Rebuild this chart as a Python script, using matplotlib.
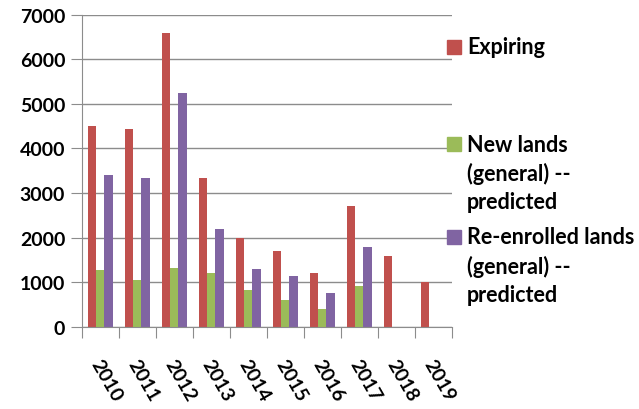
import numpy as np
import matplotlib.pyplot as plt
from matplotlib.patches import Rectangle

years = ["2010", "2011", "2012", "2013", "2014", "2015", "2016", "2017", "2018", "2019"]
expiring = [4500, 4430, 6580, 3340, 2000, 1700, 1220, 2710, 1600, 1000]
new_lands = [1280, 1060, 1320, 1210, 820, 600, 410, 910, np.nan, np.nan]
reenrolled = [3400, 3340, 5240, 2200, 1300, 1150, 760, 1790, np.nan, np.nan]

series_names = [
    ["Expiring"],
    ["New lands", "(general) --", "predicted"],
    ["Re-enrolled lands", "(general) --", "predicted"],
]
colors = ["#C0504D", "#9BBB59", "#8064A2"]
grid_color = "#8C8C8C"

plt.rcParams["font.family"] = ["Lato", "DejaVu Sans"]
plt.rcParams["font.weight"] = "bold"

fig = plt.figure(figsize=(6.39, 4.10), dpi=100)
ax = fig.add_axes([0.128, 0.2, 0.579, 0.762])

x = np.arange(len(years))
width = 0.225
for i, vals in enumerate([expiring, new_lands, reenrolled]):
    ax.bar(x + (i - 1) * width, vals, width, color=colors[i], zorder=3)

ax.set_xlim(-0.5, len(years) - 0.5)
ax.set_ylim(0, 7000)
ax.set_yticks(range(0, 7001, 1000))
ax.yaxis.grid(True, color=grid_color, linewidth=1.0, zorder=0)

for side in ["top", "right"]:
    ax.spines[side].set_visible(False)
for side in ["left", "bottom"]:
    ax.spines[side].set_color(grid_color)
    ax.spines[side].set_zorder(4)

ax.tick_params(axis="y", length=8, color=grid_color, labelsize=14, pad=4)
ax.set_xticks(np.arange(len(years) + 1) - 0.5, minor=False)
ax.set_xticklabels([])
ax.tick_params(axis="x", length=8, color=grid_color)

# rotated year labels under each category
for xi, yr in zip(x, years):
    ax.annotate(yr, xy=(xi, 0), xycoords=("data", "axes fraction"),
                xytext=(-4, -24), textcoords="offset points",
                rotation=-60, rotation_mode="anchor", ha="left", va="center",
                fontsize=14, fontweight="bold", annotation_clip=False)

# legend drawn beside the plot
W, H = 639, 410
line_gap = 29
first_rows = [48, 145, 238]
for color, lines, row in zip(colors, series_names, first_rows):
    fig.patches.append(Rectangle((447 / W, 1 - (row + 7) / H), 14 / W, 14 / H,
                                 transform=fig.transFigure, color=color))
    for k, txt in enumerate(lines):
        fig.text(467 / W, 1 - (row + k * line_gap) / H, txt,
                 ha="left", va="center", fontsize=15.5, fontweight="bold")

fig.savefig("out.png", dpi=100)
